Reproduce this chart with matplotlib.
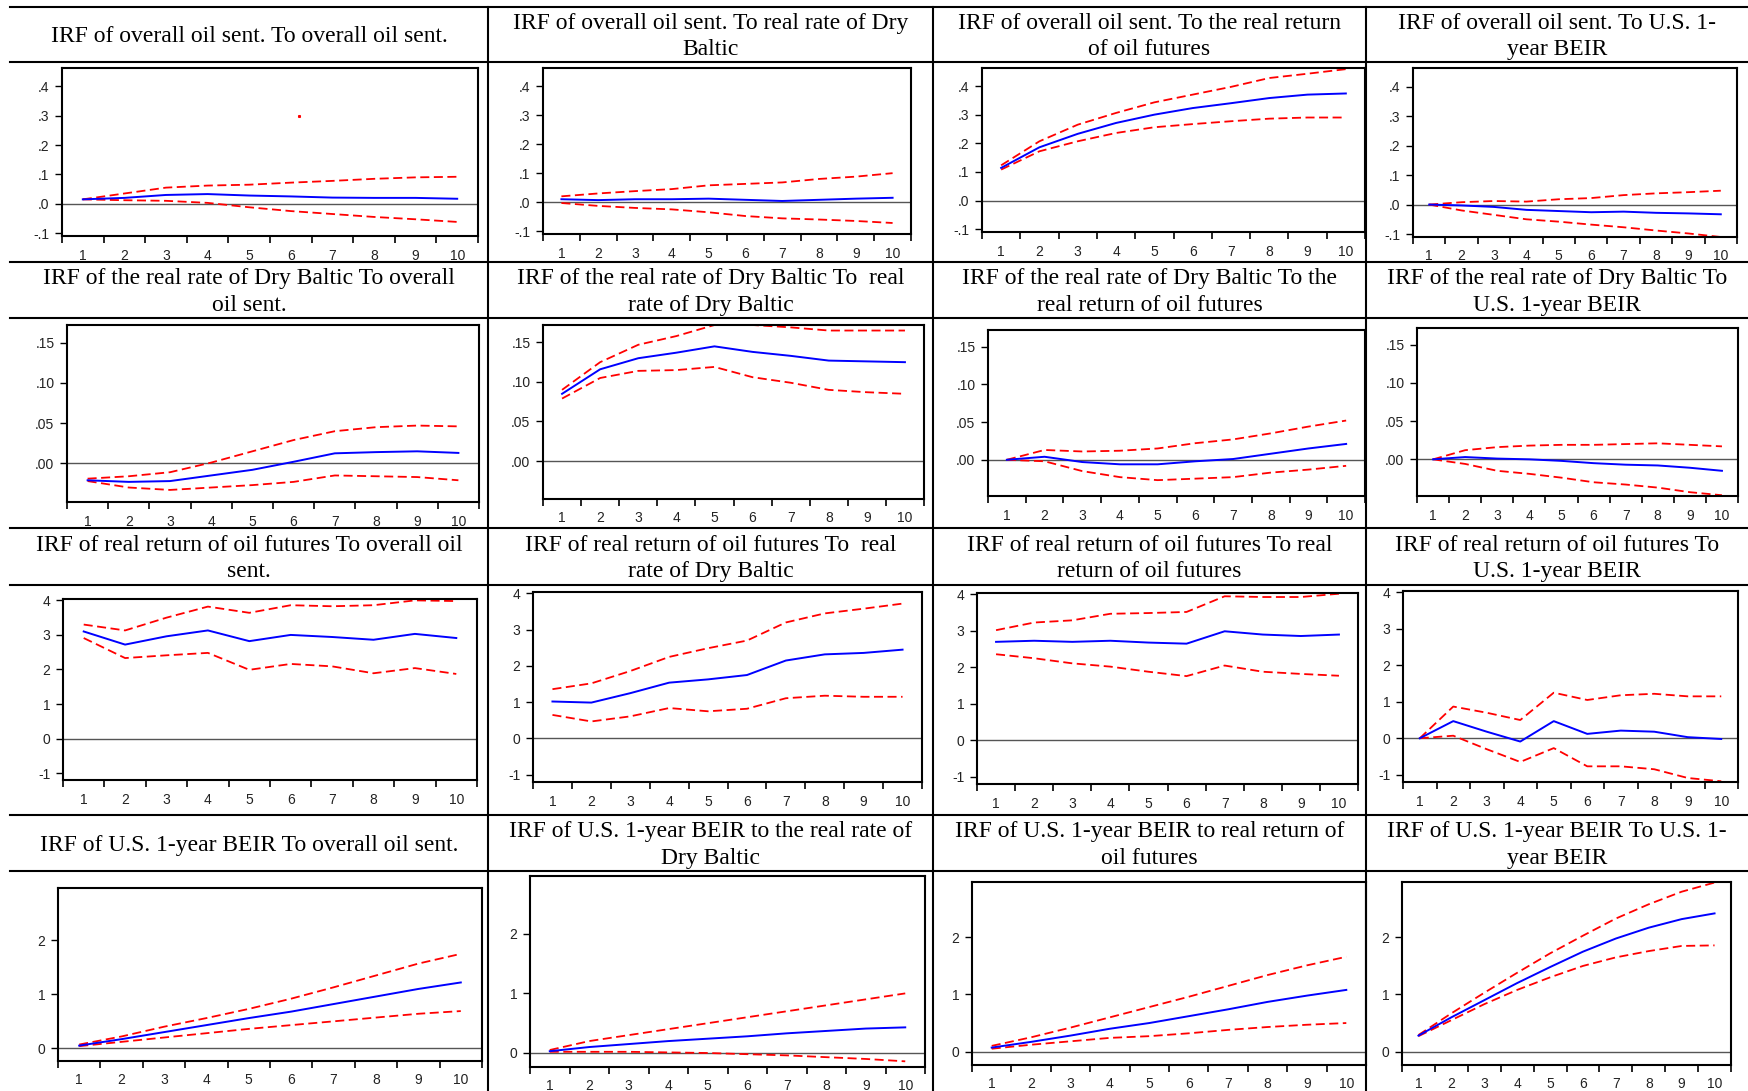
import matplotlib.pyplot as plt
from matplotlib.lines import Line2D
from matplotlib.ticker import FixedLocator

W, H = 1748, 1091
periods = list(range(1, 11))

titles = [
    ["IRF of overall oil sent. To overall oil sent.",
     "IRF of overall oil sent. To real rate of Dry\nBaltic",
     "IRF of overall oil sent. To the real return\nof oil futures",
     "IRF of overall oil sent. To U.S. 1-\nyear BEIR"],
    ["IRF of the real rate of Dry Baltic To overall\noil sent.",
     "IRF of the real rate of Dry Baltic To  real\nrate of Dry Baltic",
     "IRF of the real rate of Dry Baltic To the\nreal return of oil futures",
     "IRF of the real rate of Dry Baltic To\nU.S. 1-year BEIR"],
    ["IRF of real return of oil futures To overall oil\nsent.",
     "IRF of real return of oil futures To  real\nrate of Dry Baltic",
     "IRF of real return of oil futures To real\nreturn of oil futures",
     "IRF of real return of oil futures To\nU.S. 1-year BEIR"],
    ["IRF of U.S. 1-year BEIR To overall oil sent.",
     "IRF of U.S. 1-year BEIR to the real rate of\nDry Baltic",
     "IRF of U.S. 1-year BEIR to real return of\noil futures",
     "IRF of U.S. 1-year BEIR To U.S. 1-\nyear BEIR"],
]

# row 1: response of overall oil sentiment
resp_1 = [
    [0.015, 0.02, 0.03, 0.033, 0.028, 0.025, 0.021, 0.02, 0.02, 0.017],
    [0.01, 0.007, 0.01, 0.01, 0.012, 0.008, 0.004, 0.008, 0.012, 0.015],
    [0.114, 0.186, 0.233, 0.271, 0.3, 0.323, 0.34, 0.358, 0.37, 0.374],
    [0.0, -0.003, -0.008, -0.018, -0.022, -0.026, -0.024, -0.028, -0.03, -0.033],
]
upper_1 = [
    [0.015, 0.035, 0.055, 0.062, 0.065, 0.072, 0.078, 0.085, 0.09, 0.092],
    [0.02, 0.03, 0.038, 0.045, 0.058, 0.063, 0.068, 0.08, 0.088, 0.1],
    [0.123, 0.207, 0.265, 0.306, 0.343, 0.37, 0.397, 0.428, 0.443, 0.459],
    [0.0, 0.008, 0.012, 0.01, 0.018, 0.022, 0.032, 0.038, 0.042, 0.047],
]
lower_1 = [
    [0.015, 0.012, 0.01, 0.003, -0.012, -0.025, -0.035, -0.045, -0.053, -0.062],
    [-0.003, -0.013, -0.02, -0.025, -0.035, -0.048, -0.056, -0.06, -0.065, -0.072],
    [0.108, 0.172, 0.207, 0.236, 0.256, 0.267, 0.277, 0.286, 0.29, 0.29],
    [0.0, -0.02, -0.035, -0.05, -0.058, -0.068, -0.077, -0.088, -0.098, -0.11],
]

# row 2: response of the real rate of Dry Baltic
resp_2 = [
    [-0.021, -0.023, -0.022, -0.015, -0.008, 0.002, 0.0125, 0.014, 0.015, 0.013],
    [0.085, 0.116, 0.13, 0.137, 0.145, 0.138, 0.133, 0.127, 0.126, 0.125],
    [0.0, 0.004, -0.003, -0.006, -0.006, -0.002, 0.001, 0.008, 0.015, 0.021],
    [0.0, 0.003, 0.001, 0.0, -0.002, -0.005, -0.007, -0.008, -0.011, -0.015],
]
upper_2 = [
    [-0.019, -0.016, -0.011, 0.001, 0.015, 0.029, 0.04, 0.045, 0.047, 0.046],
    [0.09, 0.125, 0.147, 0.158, 0.172, 0.172, 0.169, 0.165, 0.165, 0.165],
    [0.0, 0.013, 0.011, 0.012, 0.015, 0.022, 0.027, 0.035, 0.044, 0.052],
    [0.0, 0.012, 0.016, 0.018, 0.019, 0.019, 0.02, 0.021, 0.019, 0.017],
]
lower_2 = [
    [-0.022, -0.03, -0.033, -0.03, -0.027, -0.023, -0.015, -0.016, -0.017, -0.021],
    [0.079, 0.105, 0.114, 0.115, 0.119, 0.106, 0.099, 0.09, 0.087, 0.085],
    [0.0, -0.002, -0.015, -0.023, -0.027, -0.025, -0.023, -0.017, -0.013, -0.008],
    [0.0, -0.006, -0.015, -0.019, -0.024, -0.03, -0.033, -0.037, -0.043, -0.047],
]

# row 3: response of the real return of oil futures
resp_3 = [
    [3.1, 2.72, 2.96, 3.13, 2.82, 3.0, 2.94, 2.86, 3.03, 2.91],
    [1.02, 0.99, 1.25, 1.54, 1.63, 1.75, 2.15, 2.32, 2.36, 2.45],
    [2.7, 2.73, 2.7, 2.73, 2.68, 2.65, 2.99, 2.9, 2.86, 2.9],
    [0.0, 0.47, 0.18, -0.09, 0.47, 0.12, 0.21, 0.18, 0.03, -0.02],
]
upper_3 = [
    [3.3, 3.13, 3.5, 3.82, 3.64, 3.86, 3.83, 3.86, 4.0, 3.98],
    [1.36, 1.52, 1.86, 2.25, 2.49, 2.7, 3.2, 3.45, 3.58, 3.72],
    [3.02, 3.23, 3.29, 3.47, 3.49, 3.52, 3.95, 3.93, 3.93, 4.02],
    [0.0, 0.87, 0.7, 0.5, 1.25, 1.05, 1.18, 1.22, 1.15, 1.15],
]
lower_3 = [
    [2.91, 2.33, 2.41, 2.48, 1.99, 2.16, 2.09, 1.89, 2.04, 1.87],
    [0.65, 0.47, 0.61, 0.84, 0.75, 0.82, 1.11, 1.18, 1.15, 1.15],
    [2.36, 2.25, 2.11, 2.02, 1.88, 1.76, 2.05, 1.88, 1.82, 1.77],
    [0.0, 0.07, -0.3, -0.65, -0.27, -0.77, -0.77, -0.85, -1.09, -1.18],
]

# row 4: response of U.S. 1-year BEIR
resp_4 = [
    [0.05, 0.17, 0.3, 0.43, 0.56, 0.68, 0.82, 0.96, 1.1, 1.22],
    [0.03, 0.1, 0.15, 0.2, 0.24, 0.28, 0.33, 0.37, 0.41, 0.43],
    [0.07, 0.17, 0.28, 0.4, 0.5, 0.62, 0.74, 0.87, 0.98, 1.08],
    [0.28, 0.6, 0.9, 1.2, 1.48, 1.75, 1.98, 2.17, 2.32, 2.42],
]
upper_4 = [
    [0.07, 0.22, 0.4, 0.56, 0.73, 0.92, 1.13, 1.35, 1.57, 1.75],
    [0.05, 0.2, 0.3, 0.4, 0.5, 0.6, 0.7, 0.8, 0.9, 1.0],
    [0.1, 0.25, 0.42, 0.6, 0.78, 0.96, 1.15, 1.34, 1.51, 1.66],
    [0.29, 0.67, 1.03, 1.38, 1.72, 2.03, 2.33, 2.58, 2.8, 2.96],
]
lower_4 = [
    [0.04, 0.12, 0.2, 0.28, 0.36, 0.43, 0.5, 0.57, 0.64, 0.69],
    [0.02, 0.02, 0.02, 0.01, 0.0, -0.02, -0.04, -0.07, -0.1, -0.14],
    [0.05, 0.12, 0.18, 0.24, 0.27, 0.32, 0.38, 0.43, 0.47, 0.5],
    [0.27, 0.55, 0.83, 1.08, 1.3, 1.5, 1.65, 1.76, 1.85, 1.86],
]

resp = [resp_1, resp_2, resp_3, resp_4]
upper = [upper_1, upper_2, upper_3, upper_4]
lower = [lower_1, lower_2, lower_3, lower_4]

ytick_vals = [[-0.1, 0, 0.1, 0.2, 0.3, 0.4], [0, 0.05, 0.1, 0.15],
              [-1, 0, 1, 2, 3, 4], [0, 1, 2]]
ytick_text = [["-.1", ".0", ".1", ".2", ".3", ".4"], [".00", ".05", ".10", ".15"],
              ["-1", "0", "1", "2", "3", "4"], ["0", "1", "2"]]
row_ylim = [(-0.11, 0.463), (-0.048, 0.172), (-1.2, 4.04), (-0.235, 2.97)]

# layout in pixels (left, top, right, bottom) for each plot box
boxes = [
    [(62, 68, 478, 236), (543, 68, 911, 234), (982, 68, 1365, 232), (1413, 68, 1737, 237)],
    [(67, 325, 479, 502), (543, 325, 924, 499), (988, 330, 1365, 496), (1417, 328, 1738, 496)],
    [(63, 599, 477, 780), (533, 592, 922, 782), (977, 593, 1358, 784), (1403, 591, 1738, 782)],
    [(58, 888, 482, 1061), (530, 876, 925, 1067), (972, 882, 1366, 1065), (1402, 882, 1731, 1065)],
]
col_edges = [10, 488, 933, 1366, 1748]
title_rows = [(7, 62), (262, 318), (528, 585), (815, 871)]

fig = plt.figure(figsize=(W / 100, H / 100), dpi=100)

def fx(x):
    return x / W

def fy(y):
    return 1 - y / H

# table grid
for top, bot in title_rows:
    for y in (top, bot):
        fig.add_artist(Line2D([fx(10), fx(W)], [fy(y), fy(y)], color="black", lw=1.5))
for x in col_edges[1:-1]:
    fig.add_artist(Line2D([fx(x), fx(x)], [fy(7), fy(H)], color="black", lw=1.5))

for r in range(4):
    top, bot = title_rows[r]
    for c in range(4):
        cx = (col_edges[c] + col_edges[c + 1]) / 2
        fig.text(fx(cx), fy((top + bot) / 2 + 2), titles[r][c], ha="center", va="center",
                 family="Liberation Serif", fontsize=17, linespacing=1.32)

        l, t, rr, b = boxes[r][c]
        ax = fig.add_axes([fx(l), fy(b), (rr - l) / W, (b - t) / H])
        ax.axhline(0, color="#555555", lw=1.0, zorder=1)
        ax.plot(periods, upper[r][c], color="red", lw=1.3, ls=(0, (5, 2.5)))
        ax.plot(periods, lower[r][c], color="red", lw=1.3, ls=(0, (5, 2.5)))
        ax.plot(periods, resp[r][c], color="blue", lw=1.4)
        if r == 0 and c == 0:
            ax.plot([6.2], [0.30], marker="s", ms=1.2, color="red", lw=0)

        ax.set_xlim(0.5, 10.5)
        ax.set_ylim(*row_ylim[r])
        ax.set_xticks(periods)
        ax.set_xticklabels([str(p) for p in periods])
        ax.xaxis.set_minor_locator(FixedLocator([p - 0.5 for p in range(1, 12)]))
        ax.tick_params(axis="x", which="major", length=0, pad=9)
        ax.tick_params(axis="x", which="minor", length=5, width=1.2, direction="out")
        ax.set_yticks(ytick_vals[r])
        ax.set_yticklabels(ytick_text[r])
        ax.tick_params(axis="y", length=5, width=1.0, pad=4)
        ax.tick_params(labelsize=10, labelcolor="#222222")
        for lab in ax.get_xticklabels() + ax.get_yticklabels():
            lab.set_family("Liberation Sans")
        for s in ax.spines.values():
            s.set_linewidth(1.5)
            s.set_color("black")

fig.savefig("out.png", dpi=100)
